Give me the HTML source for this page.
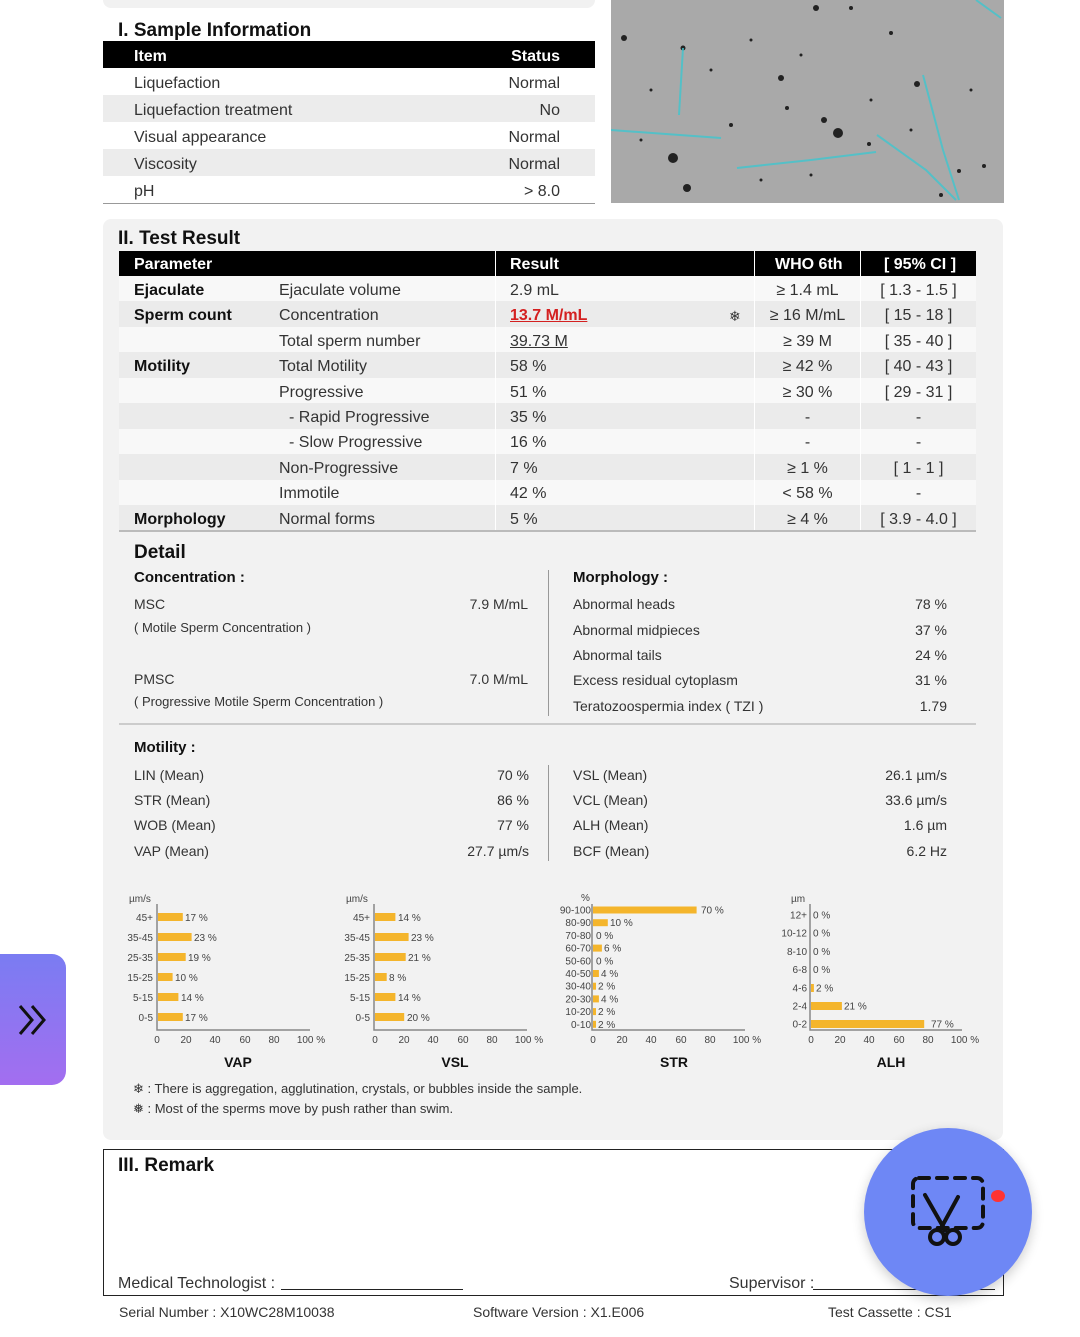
<!DOCTYPE html>
<html><head><meta charset="utf-8"><style>
html,body{margin:0;padding:0;background:#fff;}
body{width:1080px;height:1337px;position:relative;overflow:hidden;font-family:"Liberation Sans",sans-serif;color:#333;}
.a{position:absolute;white-space:nowrap;line-height:20px;margin-top:2px;}
.b{font-weight:bold;color:#111;}
.h{font-size:19px;font-weight:bold;color:#111;}
.f16{font-size:16px;}
.f15{font-size:15px;}
.f14{font-size:14px;}
.f13{font-size:13px;}
.w{color:#fff;font-weight:bold;font-size:16px;}
</style></head><body>
<div style="position:absolute;left:103px;top:-10px;width:492px;height:18px;background:#f1f1f1;border-radius:8px"></div>
<div class="a h" style="left:118px;top:19px">I. Sample Information</div>
<div style="position:absolute;left:103px;top:41px;width:492px;height:27px;background:#000"></div>
<div class="a w" style="left:134px;top:45px">Item</div>
<div class="a w" style="right:520px;top:45px">Status</div>
<div style="position:absolute;left:103px;top:95px;width:492px;height:27px;background:#ececec"></div>
<div style="position:absolute;left:103px;top:149px;width:492px;height:27px;background:#ececec"></div>
<div style="position:absolute;left:103px;top:203px;width:492px;height:1px;background:#999"></div>
<div class="a f16" style="left:134px;top:72px">Liquefaction</div><div class="a f16" style="right:520px;top:72px">Normal</div>
<div class="a f16" style="left:134px;top:99px">Liquefaction treatment</div><div class="a f16" style="right:520px;top:99px">No</div>
<div class="a f16" style="left:134px;top:126px">Visual appearance</div><div class="a f16" style="right:520px;top:126px">Normal</div>
<div class="a f16" style="left:134px;top:153px">Viscosity</div><div class="a f16" style="right:520px;top:153px">Normal</div>
<div class="a f16" style="left:134px;top:180px">pH</div><div class="a f16" style="right:520px;top:180px">&gt; 8.0</div>
<svg style="position:absolute;left:611px;top:0" width="393" height="203">
<rect width="393" height="203" fill="#a9a9a9"/>
<g fill="#222"><circle cx="13" cy="38" r="3"/><circle cx="72" cy="48" r="2.5"/><circle cx="170" cy="78" r="3"/><circle cx="213" cy="120" r="3"/><circle cx="227" cy="133" r="5"/><circle cx="258" cy="144" r="2"/><circle cx="280" cy="33" r="2"/><circle cx="306" cy="84" r="3"/><circle cx="62" cy="158" r="5"/><circle cx="76" cy="188" r="4"/><circle cx="240" cy="8" r="2"/><circle cx="205" cy="8" r="3"/><circle cx="120" cy="125" r="2"/><circle cx="176" cy="108" r="2"/><circle cx="373" cy="166" r="2"/><circle cx="348" cy="171" r="2"/><circle cx="330" cy="195" r="2"/><circle cx="140" cy="40" r="1.5"/><circle cx="40" cy="90" r="1.5"/><circle cx="100" cy="70" r="1.5"/><circle cx="190" cy="55" r="1.5"/><circle cx="260" cy="100" r="1.5"/><circle cx="300" cy="130" r="1.5"/><circle cx="360" cy="90" r="1.5"/><circle cx="150" cy="180" r="1.5"/><circle cx="200" cy="175" r="1.5"/><circle cx="30" cy="140" r="1.5"/></g>
<g fill="none" stroke="#3fc6cf" stroke-width="2" opacity="0.8"><path d="M0 130 L110 138"/><path d="M72 48 L68 115"/><path d="M126 168 L200 160 L265 152"/><path d="M266 135 L315 170 L345 200"/><path d="M312 75 L332 150 L348 200"/><path d="M365 0 L390 18"/></g>
</svg>
<div style="position:absolute;left:103px;top:219px;width:900px;height:921px;background:#f2f2f2;border-radius:8px"></div>
<div class="a h" style="left:118px;top:227px">II. Test Result</div>
<div style="position:absolute;left:119px;top:251px;width:857px;height:25px;background:#000"></div>
<div class="a w" style="left:134px;top:253px">Parameter</div>
<div class="a w" style="left:510px;top:253px">Result</div>
<div class="a w" style="left:775px;top:253px">WHO 6th</div>
<div class="a w" style="left:884px;top:253px">[ 95% CI ]</div>
<div style="position:absolute;left:119px;top:276px;width:857px;height:255px;background:#f8f8f8"></div>
<div style="position:absolute;left:119px;top:301px;width:857px;height:25.5px;background:#ebebeb"></div>
<div style="position:absolute;left:119px;top:352px;width:857px;height:25.5px;background:#ebebeb"></div>
<div style="position:absolute;left:119px;top:403px;width:857px;height:25.5px;background:#ebebeb"></div>
<div style="position:absolute;left:119px;top:454px;width:857px;height:25.5px;background:#ebebeb"></div>
<div style="position:absolute;left:119px;top:505px;width:857px;height:25.5px;background:#ebebeb"></div>
<div style="position:absolute;left:495px;top:251px;width:1px;height:280px;background:#fff"></div>
<div style="position:absolute;left:754px;top:251px;width:1px;height:280px;background:#fff"></div>
<div style="position:absolute;left:860px;top:251px;width:1px;height:280px;background:#fff"></div>
<div style="position:absolute;left:119px;top:530px;width:857px;height:2px;background:#bbb"></div>
<div class="a f16 b" style="left:134px;top:279px">Ejaculate</div>
<div class="a f16 b" style="left:134px;top:304px">Sperm count</div>
<div class="a f16 b" style="left:134px;top:355px">Motility</div>
<div class="a f16 b" style="left:134px;top:508px">Morphology</div>
<div class="a f16" style="left:279px;top:279px">Ejaculate volume</div>
<div class="a f16" style="left:279px;top:304px">Concentration</div>
<div class="a f16" style="left:279px;top:330px">Total sperm number</div>
<div class="a f16" style="left:279px;top:355px">Total Motility</div>
<div class="a f16" style="left:279px;top:381px">Progressive</div>
<div class="a f16" style="left:289px;top:406px">- Rapid Progressive</div>
<div class="a f16" style="left:289px;top:431px">- Slow Progressive</div>
<div class="a f16" style="left:279px;top:457px">Non-Progressive</div>
<div class="a f16" style="left:279px;top:482px">Immotile</div>
<div class="a f16" style="left:279px;top:508px">Normal forms</div>
<div class="a f16" style="left:510px;top:279px">2.9 mL</div>
<div class="a f16" style="left:510px;top:304px;color:#d42020;font-weight:bold;text-decoration:underline">13.7 M/mL</div>
<div class="a f14" style="left:729px;top:304px">&#10052;</div>
<div class="a f16" style="left:510px;top:330px;text-decoration:underline">39.73 M</div>
<div class="a f16" style="left:510px;top:355px">58 %</div>
<div class="a f16" style="left:510px;top:381px">51 %</div>
<div class="a f16" style="left:510px;top:406px">35 %</div>
<div class="a f16" style="left:510px;top:431px">16 %</div>
<div class="a f16" style="left:510px;top:457px">7 %</div>
<div class="a f16" style="left:510px;top:482px">42 %</div>
<div class="a f16" style="left:510px;top:508px">5 %</div>
<div class="a f16" style="left:755px;width:105px;text-align:center;top:279px">≥ 1.4 mL</div>
<div class="a f16" style="left:755px;width:105px;text-align:center;top:304px">≥ 16 M/mL</div>
<div class="a f16" style="left:755px;width:105px;text-align:center;top:330px">≥ 39 M</div>
<div class="a f16" style="left:755px;width:105px;text-align:center;top:355px">≥ 42 %</div>
<div class="a f16" style="left:755px;width:105px;text-align:center;top:381px">≥ 30 %</div>
<div class="a f16" style="left:755px;width:105px;text-align:center;top:406px">-</div>
<div class="a f16" style="left:755px;width:105px;text-align:center;top:431px">-</div>
<div class="a f16" style="left:755px;width:105px;text-align:center;top:457px">≥ 1 %</div>
<div class="a f16" style="left:755px;width:105px;text-align:center;top:482px">&lt; 58 %</div>
<div class="a f16" style="left:755px;width:105px;text-align:center;top:508px">≥ 4 %</div>
<div class="a f16" style="left:861px;width:115px;text-align:center;top:279px">[ 1.3 - 1.5 ]</div>
<div class="a f16" style="left:861px;width:115px;text-align:center;top:304px">[ 15 - 18 ]</div>
<div class="a f16" style="left:861px;width:115px;text-align:center;top:330px">[ 35 - 40 ]</div>
<div class="a f16" style="left:861px;width:115px;text-align:center;top:355px">[ 40 - 43 ]</div>
<div class="a f16" style="left:861px;width:115px;text-align:center;top:381px">[ 29 - 31 ]</div>
<div class="a f16" style="left:861px;width:115px;text-align:center;top:406px">-</div>
<div class="a f16" style="left:861px;width:115px;text-align:center;top:431px">-</div>
<div class="a f16" style="left:861px;width:115px;text-align:center;top:457px">[ 1 - 1 ]</div>
<div class="a f16" style="left:861px;width:115px;text-align:center;top:482px">-</div>
<div class="a f16" style="left:861px;width:115px;text-align:center;top:508px">[ 3.9 - 4.0 ]</div>
<div class="a h" style="left:134px;top:541px">Detail</div>
<div class="a f15 b" style="left:134px;top:566px">Concentration :</div>
<div class="a f15 b" style="left:573px;top:566px">Morphology :</div>
<div style="position:absolute;left:548px;top:570px;width:1px;height:146px;background:#999"></div>
<div class="a f14" style="left:134px;top:592px">MSC</div><div class="a f14" style="right:552px;top:592px">7.9 M/mL</div>
<div class="a f13" style="left:134px;top:616px">( Motile Sperm Concentration )</div>
<div class="a f14" style="left:134px;top:667px">PMSC</div><div class="a f14" style="right:552px;top:667px">7.0 M/mL</div>
<div class="a f13" style="left:134px;top:690px">( Progressive Motile Sperm Concentration )</div>
<div class="a f14" style="left:573px;top:592px">Abnormal heads</div><div class="a f14" style="right:133px;top:592px">78 %</div>
<div class="a f14" style="left:573px;top:618px">Abnormal midpieces</div><div class="a f14" style="right:133px;top:618px">37 %</div>
<div class="a f14" style="left:573px;top:643px">Abnormal tails</div><div class="a f14" style="right:133px;top:643px">24 %</div>
<div class="a f14" style="left:573px;top:668px">Excess residual cytoplasm</div><div class="a f14" style="right:133px;top:668px">31 %</div>
<div class="a f14" style="left:573px;top:694px">Teratozoospermia index ( TZI )</div><div class="a f14" style="right:133px;top:694px">1.79</div>
<div style="position:absolute;left:119px;top:723px;width:857px;height:2px;background:#ccc"></div>
<div class="a f15 b" style="left:134px;top:736px">Motility :</div>
<div style="position:absolute;left:548px;top:765px;width:1px;height:96px;background:#999"></div>
<div class="a f14" style="left:134px;top:763px">LIN (Mean)</div><div class="a f14" style="right:551px;top:763px">70 %</div>
<div class="a f14" style="left:134px;top:788px">STR (Mean)</div><div class="a f14" style="right:551px;top:788px">86 %</div>
<div class="a f14" style="left:134px;top:813px">WOB (Mean)</div><div class="a f14" style="right:551px;top:813px">77 %</div>
<div class="a f14" style="left:134px;top:839px">VAP (Mean)</div><div class="a f14" style="right:551px;top:839px">27.7 µm/s</div>
<div class="a f14" style="left:573px;top:763px">VSL (Mean)</div><div class="a f14" style="right:133px;top:763px">26.1 µm/s</div>
<div class="a f14" style="left:573px;top:788px">VCL (Mean)</div><div class="a f14" style="right:133px;top:788px">33.6 µm/s</div>
<div class="a f14" style="left:573px;top:813px">ALH (Mean)</div><div class="a f14" style="right:133px;top:813px">1.6 µm</div>
<div class="a f14" style="left:573px;top:839px">BCF (Mean)</div><div class="a f14" style="right:133px;top:839px">6.2 Hz</div>
<svg style="position:absolute;left:0;top:0" width="1080" height="1337" font-family="Liberation Sans, sans-serif" font-size="10" fill="#444">
<g stroke="#888" stroke-width="1.5" fill="none">
<path d="M157 904 V1030 H310"/><path d="M374 904 V1030 H527"/><path d="M592 904 V1030 H745"/><path d="M810 904 V1030 H962"/>
</g>
<g fill="#f4b52c">
<rect x="158" y="913" width="24.8" height="8"/><rect x="158" y="933" width="33.6" height="8"/><rect x="158" y="953" width="27.7" height="8"/><rect x="158" y="973" width="14.6" height="8"/><rect x="158" y="993" width="20.4" height="8"/><rect x="158" y="1013" width="24.8" height="8"/>
<rect x="375" y="913" width="20.4" height="8"/><rect x="375" y="933" width="33.6" height="8"/><rect x="375" y="953" width="30.7" height="8"/><rect x="375" y="973" width="11.7" height="8"/><rect x="375" y="993" width="20.4" height="8"/><rect x="375" y="1013" width="29.2" height="8"/>
<rect x="593" y="906.5" width="103.6" height="7"/><rect x="593" y="919.2" width="14.8" height="7"/><rect x="593" y="944.6" width="8.9" height="7"/><rect x="593" y="970" width="5.9" height="7"/><rect x="593" y="982.7" width="3" height="7"/><rect x="593" y="995.4" width="5.9" height="7"/><rect x="593" y="1008.1" width="3" height="7"/><rect x="593" y="1020.8" width="3" height="7"/>
<rect x="811" y="984" width="2.9" height="8"/><rect x="811" y="1002" width="30.9" height="8"/><rect x="811" y="1020" width="113.2" height="8"/>
</g>
<g text-anchor="end">
<text x="153" y="921">45+</text><text x="153" y="941">35-45</text><text x="153" y="961">25-35</text><text x="153" y="981">15-25</text><text x="153" y="1001">5-15</text><text x="153" y="1021">0-5</text>
<text x="370" y="921">45+</text><text x="370" y="941">35-45</text><text x="370" y="961">25-35</text><text x="370" y="981">15-25</text><text x="370" y="1001">5-15</text><text x="370" y="1021">0-5</text>
<text x="591" y="913.5">90-100</text><text x="591" y="926.2">80-90</text><text x="591" y="938.9">70-80</text><text x="591" y="951.6">60-70</text><text x="591" y="964.3">50-60</text><text x="591" y="977">40-50</text><text x="591" y="989.7">30-40</text><text x="591" y="1002.4">20-30</text><text x="591" y="1015.1">10-20</text><text x="591" y="1027.8">0-10</text>
<text x="807" y="918.5">12+</text><text x="807" y="936.7">10-12</text><text x="807" y="954.9">8-10</text><text x="807" y="973.1">6-8</text><text x="807" y="991.3">4-6</text><text x="807" y="1009.5">2-4</text><text x="807" y="1027.7">0-2</text>
</g>
<g>
<text x="185" y="921">17 %</text><text x="194" y="941">23 %</text><text x="188" y="961">19 %</text><text x="175" y="981">10 %</text><text x="181" y="1001">14 %</text><text x="185" y="1021">17 %</text>
<text x="398" y="921">14 %</text><text x="411" y="941">23 %</text><text x="408" y="961">21 %</text><text x="389" y="981">8 %</text><text x="398" y="1001">14 %</text><text x="407" y="1021">20 %</text>
<text x="701" y="913.5">70 %</text><text x="610" y="926.2">10 %</text><text x="596" y="938.9">0 %</text><text x="604" y="951.6">6 %</text><text x="596" y="964.3">0 %</text><text x="601" y="977">4 %</text><text x="598" y="989.7">2 %</text><text x="601" y="1002.4">4 %</text><text x="598" y="1015.1">2 %</text><text x="598" y="1027.8">2 %</text>
<text x="813" y="918.5">0 %</text><text x="813" y="936.7">0 %</text><text x="813" y="954.9">0 %</text><text x="813" y="973.1">0 %</text><text x="816" y="991.3">2 %</text><text x="844" y="1009.5">21 %</text><text x="931" y="1027.7">77 %</text>
</g>
<text x="129" y="902">µm/s</text><text x="346" y="902">µm/s</text><text x="581" y="901">%</text><text x="791" y="902">µm</text>
<g text-anchor="middle">
<text x="157" y="1043">0</text><text x="186" y="1043">20</text><text x="215" y="1043">40</text><text x="245" y="1043">60</text><text x="274" y="1043">80</text><text x="311" y="1043">100 %</text>
<text x="375" y="1043">0</text><text x="404" y="1043">20</text><text x="433" y="1043">40</text><text x="463" y="1043">60</text><text x="492" y="1043">80</text><text x="529" y="1043">100 %</text>
<text x="593" y="1043">0</text><text x="622" y="1043">20</text><text x="651" y="1043">40</text><text x="681" y="1043">60</text><text x="710" y="1043">80</text><text x="747" y="1043">100 %</text>
<text x="811" y="1043">0</text><text x="840" y="1043">20</text><text x="869" y="1043">40</text><text x="899" y="1043">60</text><text x="928" y="1043">80</text><text x="965" y="1043">100 %</text>
<g font-size="14" font-weight="bold" fill="#111"><text x="238" y="1067">VAP</text><text x="455" y="1067">VSL</text><text x="674" y="1067">STR</text><text x="891" y="1067">ALH</text></g>
</g>
</svg>
<div class="a f13" style="left:133px;top:1077px">&#10052; : There is aggregation, agglutination, crystals, or bubbles inside the sample.</div>
<div class="a f13" style="left:133px;top:1097px">&#10053; : Most of the sperms move by push rather than swim.</div>
<div style="position:absolute;left:103px;top:1149px;width:899px;height:145px;border:1px solid #222"></div>
<div class="a h" style="left:118px;top:1154px">III. Remark</div>
<div class="a f16" style="left:118px;top:1272px">Medical Technologist :</div>
<div style="position:absolute;left:281px;top:1289px;width:182px;height:1px;background:#222"></div>
<div class="a f16" style="left:729px;top:1272px">Supervisor :</div>
<div style="position:absolute;left:813px;top:1289px;width:182px;height:1px;background:#222"></div>
<div class="a f14" style="left:119px;top:1300px">Serial Number :  X10WC28M10038</div>
<div class="a f14" style="left:473px;top:1300px">Software Version :  X1.E006</div>
<div class="a f14" style="left:828px;top:1300px">Test Cassette :  CS1</div>
<div style="position:absolute;left:-20px;top:954px;width:86px;height:131px;border-radius:14px;background:linear-gradient(180deg,#7a7cf2,#a36ef0)"></div>
<svg style="position:absolute;left:16px;top:1002px" width="36" height="36"><g fill="none" stroke="#111" stroke-width="3"><path d="M4 4 L16 18 L4 32"/><path d="M16 4 L28 18 L16 32"/></g></svg>
<div style="position:absolute;left:864px;top:1128px;width:168px;height:168px;border-radius:50%;background:#6e87f5;box-shadow:0 4px 12px rgba(0,0,0,0.2)"></div>
<svg style="position:absolute;left:900px;top:1165px" width="110" height="90"><g fill="none" stroke="#111" stroke-width="4" stroke-linecap="round"><rect x="13" y="13" width="70" height="50" rx="6" stroke-dasharray="10 8"/><path d="M25 30 L45 65"/><path d="M58 32 L40 65"/><circle cx="37" cy="72" r="7" fill="#6e87f5"/><circle cx="53" cy="72" r="7" fill="#6e87f5"/></g><ellipse cx="98" cy="31" rx="7" ry="6" fill="#f33"/></svg>
</body></html>
